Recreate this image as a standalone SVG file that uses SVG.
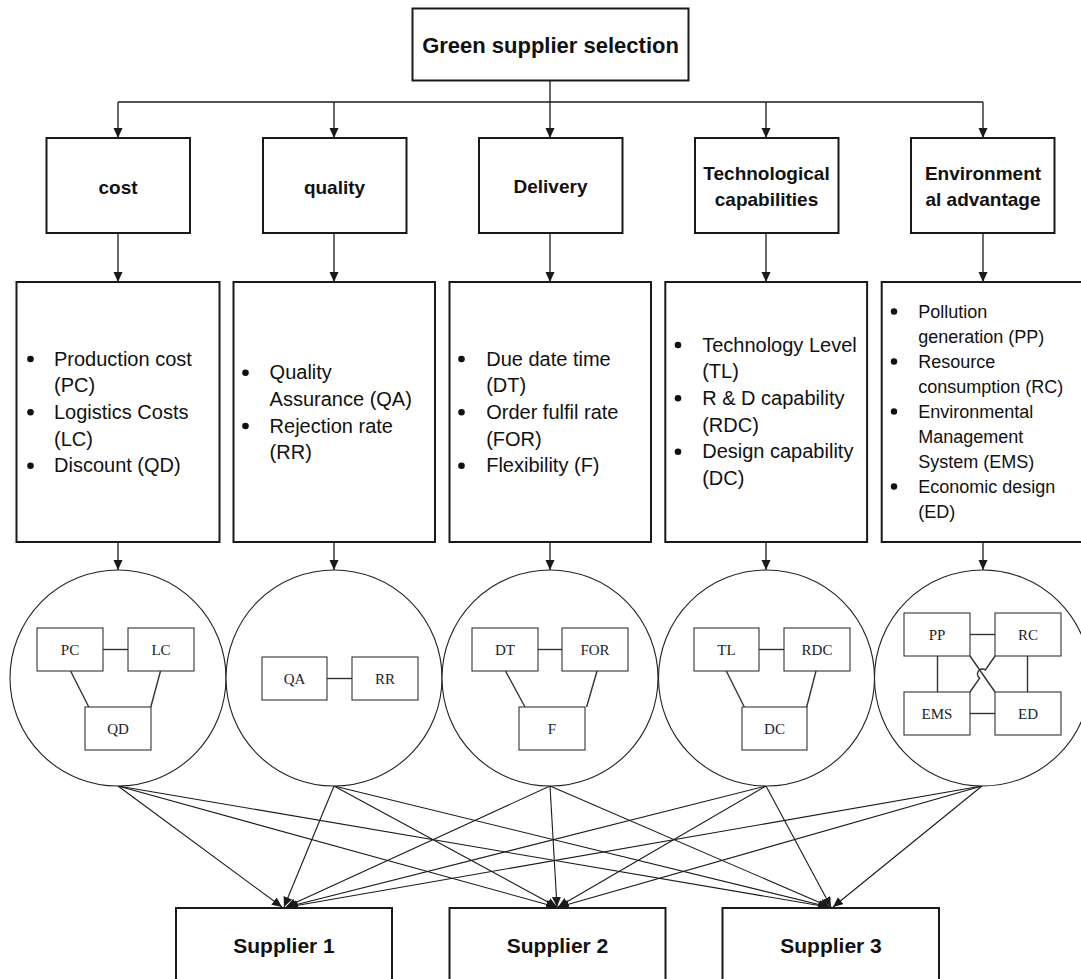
<svg xmlns="http://www.w3.org/2000/svg" width="1081" height="979" viewBox="0 0 1081 979">
<style>
.box{fill:#fff;stroke:#1a1a1a;stroke-width:2}
.circ{fill:#fff;stroke:#222;stroke-width:1.1}
.ib{fill:#fff;stroke:#333;stroke-width:1.1}
.il{fill:none;stroke:#333;stroke-width:1.4}
.con{fill:none;stroke:#1a1a1a;stroke-width:1.3}
.sl{fill:none;stroke:#1a1a1a;stroke-width:1.1}
.h{font-family:"Liberation Sans",Arial,sans-serif;font-weight:bold;fill:#111;text-anchor:middle}
.t{font-family:"Liberation Sans",Arial,sans-serif;font-size:20px;fill:#111}
.te{font-family:"Liberation Sans",Arial,sans-serif;font-size:18px;fill:#111}
.s{font-family:"Liberation Serif","Times New Roman",serif;font-size:15px;fill:#222;text-anchor:middle}
.b{fill:#111}
</style>
<defs>
<marker id="ah" markerUnits="userSpaceOnUse" markerWidth="10" markerHeight="10" refX="10" refY="4.5" orient="auto">
<path d="M0,0 L10,4.5 L0,9 z" fill="#1a1a1a"/>
</marker>
</defs>

<g id="connectors">
<line class="con" x1="550" y1="80" x2="550" y2="102"/>
<line class="con" x1="118" y1="102" x2="983" y2="102"/>
<line class="con" x1="118" y1="102" x2="118" y2="138" marker-end="url(#ah)"/>
<line class="con" x1="334" y1="102" x2="334" y2="138" marker-end="url(#ah)"/>
<line class="con" x1="550" y1="102" x2="550" y2="138" marker-end="url(#ah)"/>
<line class="con" x1="766" y1="102" x2="766" y2="138" marker-end="url(#ah)"/>
<line class="con" x1="983" y1="102" x2="983" y2="138" marker-end="url(#ah)"/>
<line class="con" x1="118" y1="233" x2="118" y2="282" marker-end="url(#ah)"/>
<line class="con" x1="334" y1="233" x2="334" y2="282" marker-end="url(#ah)"/>
<line class="con" x1="550" y1="233" x2="550" y2="282" marker-end="url(#ah)"/>
<line class="con" x1="766" y1="233" x2="766" y2="282" marker-end="url(#ah)"/>
<line class="con" x1="983" y1="233" x2="983" y2="282" marker-end="url(#ah)"/>
<line class="con" x1="118" y1="542" x2="118" y2="570" marker-end="url(#ah)"/>
<line class="con" x1="334" y1="542" x2="334" y2="570" marker-end="url(#ah)"/>
<line class="con" x1="550" y1="542" x2="550" y2="570" marker-end="url(#ah)"/>
<line class="con" x1="766" y1="542" x2="766" y2="570" marker-end="url(#ah)"/>
<line class="con" x1="983" y1="542" x2="983" y2="570" marker-end="url(#ah)"/>
<!-- circles to suppliers -->
<line class="sl" x1="118" y1="786" x2="282" y2="907" marker-end="url(#ah)"/>
<line class="sl" x1="118" y1="786" x2="556" y2="907" marker-end="url(#ah)"/>
<line class="sl" x1="118" y1="786" x2="828" y2="907" marker-end="url(#ah)"/>
<line class="sl" x1="334" y1="786" x2="284" y2="907" marker-end="url(#ah)"/>
<line class="sl" x1="334" y1="786" x2="557" y2="907" marker-end="url(#ah)"/>
<line class="sl" x1="334" y1="786" x2="829" y2="907" marker-end="url(#ah)"/>
<line class="sl" x1="550" y1="786" x2="286" y2="907" marker-end="url(#ah)"/>
<line class="sl" x1="550" y1="786" x2="557" y2="907" marker-end="url(#ah)"/>
<line class="sl" x1="550" y1="786" x2="830" y2="907" marker-end="url(#ah)"/>
<line class="sl" x1="766" y1="786" x2="287" y2="907" marker-end="url(#ah)"/>
<line class="sl" x1="766" y1="786" x2="558" y2="907" marker-end="url(#ah)"/>
<line class="sl" x1="766" y1="786" x2="831" y2="907" marker-end="url(#ah)"/>
<line class="sl" x1="982" y1="786" x2="288" y2="907" marker-end="url(#ah)"/>
<line class="sl" x1="982" y1="786" x2="559" y2="907" marker-end="url(#ah)"/>
<line class="sl" x1="982" y1="786" x2="833" y2="907" marker-end="url(#ah)"/>
</g>

<g id="goal">
<rect class="box" x="412.5" y="8.5" width="276" height="72"/>
<text class="h" x="550.5" y="52.5" font-size="22">Green supplier selection</text>
</g>

<g id="crit-cost">
<rect class="box" x="46.5" y="138" width="143.5" height="95"/>
<text class="h" x="118" y="194" font-size="19">cost</text>
</g>
<g id="crit-quality">
<rect class="box" x="263" y="138" width="143.5" height="95"/>
<text class="h" x="334.5" y="194" font-size="19">quality</text>
</g>
<g id="crit-delivery">
<rect class="box" x="479" y="138" width="143.5" height="95"/>
<text class="h" x="550.5" y="193" font-size="19">Delivery</text>
</g>
<g id="crit-tech">
<rect class="box" x="695" y="138" width="143.5" height="95"/>
<text class="h" x="766.5" y="180" font-size="19">Technological</text>
<text class="h" x="766.5" y="206" font-size="19">capabilities</text>
</g>
<g id="crit-env">
<rect class="box" x="911" y="138" width="143.5" height="95"/>
<text class="h" x="983" y="180" font-size="19">Environment</text>
<text class="h" x="983" y="206" font-size="19">al advantage</text>
</g>

<g id="sub-cost">
<rect class="box" x="16.5" y="282" width="203" height="260"/>
<circle class="b" cx="30.5" cy="359" r="3.3"/>
<circle class="b" cx="30.5" cy="412.3" r="3.3"/>
<circle class="b" cx="30.5" cy="465.7" r="3.3"/>
<text class="t" x="54" y="365.7">Production cost</text>
<text class="t" x="54" y="392.3">(PC)</text>
<text class="t" x="54" y="419">Logistics Costs</text>
<text class="t" x="54" y="445.7">(LC)</text>
<text class="t" x="54" y="472.3">Discount (QD)</text>
</g>
<g id="sub-quality">
<rect class="box" x="233.5" y="282" width="201.5" height="260"/>
<circle class="b" cx="245.5" cy="372.7" r="3.3"/>
<circle class="b" cx="245.5" cy="426" r="3.3"/>
<text class="t" x="269.6" y="379.3">Quality</text>
<text class="t" x="269.6" y="406">Assurance (QA)</text>
<text class="t" x="269.6" y="432.7">Rejection rate</text>
<text class="t" x="269.6" y="459.3">(RR)</text>
</g>
<g id="sub-delivery">
<rect class="box" x="449.5" y="282" width="201.5" height="260"/>
<circle class="b" cx="461.5" cy="359" r="3.3"/>
<circle class="b" cx="461.5" cy="412.3" r="3.3"/>
<circle class="b" cx="461.5" cy="465.7" r="3.3"/>
<text class="t" x="486.2" y="365.7">Due date time</text>
<text class="t" x="486.2" y="392.3">(DT)</text>
<text class="t" x="486.2" y="419">Order fulfil rate</text>
<text class="t" x="486.2" y="445.7">(FOR)</text>
<text class="t" x="486.2" y="472.3">Flexibility (F)</text>
</g>
<g id="sub-tech">
<rect class="box" x="665.3" y="282" width="201.8" height="260"/>
<circle class="b" cx="678" cy="345" r="3.3"/>
<circle class="b" cx="678" cy="398.3" r="3.3"/>
<circle class="b" cx="678" cy="451.7" r="3.3"/>
<text class="t" x="702.2" y="351.7">Technology Level</text>
<text class="t" x="702.2" y="378.3">(TL)</text>
<text class="t" x="702.2" y="405">R &amp; D capability</text>
<text class="t" x="702.2" y="431.7">(RDC)</text>
<text class="t" x="702.2" y="458.3">Design capability</text>
<text class="t" x="702.2" y="485">(DC)</text>
</g>
<g id="sub-env">
<rect class="box" x="881.7" y="282" width="203" height="260"/>
<circle class="b" cx="894" cy="311.5" r="3.2"/>
<circle class="b" cx="894" cy="361.5" r="3.2"/>
<circle class="b" cx="894" cy="411.5" r="3.2"/>
<circle class="b" cx="894" cy="486.5" r="3.2"/>
<text class="te" x="918.3" y="317.7">Pollution</text>
<text class="te" x="918.3" y="342.7">generation (PP)</text>
<text class="te" x="918.3" y="367.7">Resource</text>
<text class="te" x="918.3" y="392.7">consumption (RC)</text>
<text class="te" x="918.3" y="417.7">Environmental</text>
<text class="te" x="918.3" y="442.7">Management</text>
<text class="te" x="918.3" y="467.7">System (EMS)</text>
<text class="te" x="918.3" y="492.7">Economic design</text>
<text class="te" x="918.3" y="517.7">(ED)</text>
</g>

<g id="net-cost">
<circle class="circ" cx="118" cy="678" r="108"/>
<line class="il" x1="103" y1="649.5" x2="128" y2="649.5"/>
<line class="il" x1="70.6" y1="671" x2="88.8" y2="707"/>
<line class="il" x1="160.5" y1="671" x2="150.8" y2="707"/>
<rect class="ib" x="37" y="628" width="66" height="43"/>
<rect class="ib" x="128" y="628" width="66" height="43"/>
<rect class="ib" x="85" y="707" width="66" height="43"/>
<text class="s" x="70" y="655">PC</text>
<text class="s" x="161" y="655">LC</text>
<text class="s" x="118" y="734">QD</text>
</g>
<g id="net-quality">
<circle class="circ" cx="334" cy="678" r="108"/>
<line class="il" x1="327" y1="678.5" x2="352" y2="678.5"/>
<rect class="ib" x="262" y="657" width="65" height="43"/>
<rect class="ib" x="352" y="657" width="66" height="43"/>
<text class="s" x="294.5" y="684">QA</text>
<text class="s" x="385" y="684">RR</text>
</g>
<g id="net-delivery">
<circle class="circ" cx="550" cy="678" r="108"/>
<line class="il" x1="538" y1="649.5" x2="562" y2="649.5"/>
<line class="il" x1="505.5" y1="671" x2="525" y2="707"/>
<line class="il" x1="597" y1="671" x2="586.6" y2="707"/>
<rect class="ib" x="472" y="628" width="66" height="43"/>
<rect class="ib" x="562" y="628" width="66" height="43"/>
<rect class="ib" x="519" y="707" width="66" height="43"/>
<text class="s" x="505" y="655">DT</text>
<text class="s" x="595" y="655">FOR</text>
<text class="s" x="552" y="734">F</text>
</g>
<g id="net-tech">
<circle class="circ" cx="766.5" cy="678" r="108"/>
<line class="il" x1="759" y1="649.5" x2="784" y2="649.5"/>
<line class="il" x1="726.3" y1="671" x2="744.3" y2="707"/>
<line class="il" x1="816" y1="671" x2="806.7" y2="707"/>
<rect class="ib" x="694" y="628" width="65" height="43"/>
<rect class="ib" x="784" y="628" width="66" height="43"/>
<rect class="ib" x="742" y="707" width="65" height="43"/>
<text class="s" x="726.5" y="655">TL</text>
<text class="s" x="817" y="655">RDC</text>
<text class="s" x="774.5" y="734">DC</text>
</g>
<g id="net-env">
<circle class="circ" cx="982.5" cy="678" r="108"/>
<line class="il" x1="970" y1="634.5" x2="995" y2="634.5"/>
<line class="il" x1="970" y1="713.5" x2="995" y2="713.5"/>
<line class="il" x1="937.5" y1="656" x2="937.5" y2="692"/>
<line class="il" x1="1027.5" y1="656" x2="1027.5" y2="692"/>
<line class="il" x1="970" y1="656" x2="995" y2="692"/>
<path class="il" d="M995,656 L985.4,669.9 A5,5 0 0 0 979.6,678.1 L970,692"/>
<rect class="ib" x="904" y="613" width="66" height="43"/>
<rect class="ib" x="995" y="613" width="66" height="43"/>
<rect class="ib" x="904" y="692" width="66" height="43"/>
<rect class="ib" x="995" y="692" width="66" height="43"/>
<text class="s" x="937" y="640">PP</text>
<text class="s" x="1028" y="640">RC</text>
<text class="s" x="937" y="719">EMS</text>
<text class="s" x="1028" y="719">ED</text>
</g>

<g id="supplier-1">
<rect class="box" x="176" y="908" width="216" height="90"/>
<text class="h" x="284" y="953" font-size="21">Supplier 1</text>
</g>
<g id="supplier-2">
<rect class="box" x="449.5" y="908" width="216" height="90"/>
<text class="h" x="557.5" y="953" font-size="21">Supplier 2</text>
</g>
<g id="supplier-3">
<rect class="box" x="722.5" y="908" width="216.5" height="90"/>
<text class="h" x="831" y="953" font-size="21">Supplier 3</text>
</g>
</svg>
